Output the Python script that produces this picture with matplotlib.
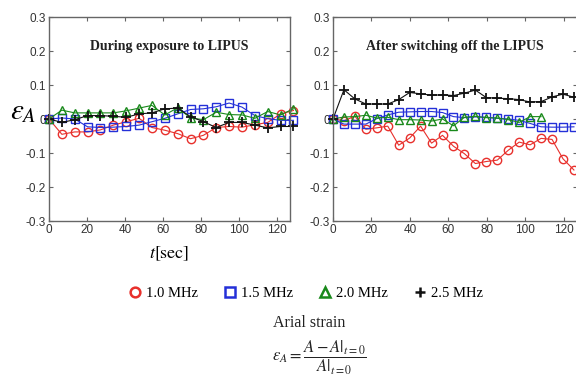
import matplotlib
matplotlib.use('Agg')
import matplotlib.pyplot as plt

plt.rcParams['mathtext.fontset'] = 'stix'

# ---------------- data ----------------
t_during = [0, 6.78, 13.56, 20.34, 27.12, 33.9, 40.68, 47.46, 54.24, 61.02,
            67.8, 74.58, 81.36, 88.14, 94.92, 101.7, 108.48, 115.26, 122.04, 128.82]
during_10 = [0, -0.045, -0.038, -0.038, -0.032, -0.018, -0.008, 0.002, -0.025, -0.033,
             -0.043, -0.058, -0.048, -0.025, -0.022, -0.024, -0.017, -0.010, 0.015, 0.025]
during_15 = [0, 0.003, 0.0, -0.023, -0.025, -0.024, -0.022, -0.018, -0.008, 0.002,
             0.015, 0.028, 0.030, 0.036, 0.047, 0.035, 0.010, 0.001, -0.004, -0.004]
during_20 = [0, 0.026, 0.018, 0.018, 0.018, 0.018, 0.024, 0.032, 0.040, 0.012,
             0.033, 0.003, -0.002, 0.020, 0.013, 0.012, 0.002, 0.022, 0.012, 0.030]
during_25 = [0, -0.010, -0.002, 0.010, 0.010, 0.008, 0.005, 0.015, 0.018, 0.030,
             0.032, 0.007, -0.008, -0.025, -0.010, -0.010, -0.018, -0.026, -0.022, -0.022]

t_after = [0, 5.7, 11.4, 17.1, 22.8, 28.5, 34.2, 39.9, 45.6, 51.3, 57.0, 62.7,
           68.4, 74.1, 79.8, 85.5, 91.2, 96.9, 102.6, 108.3, 114.0, 119.7, 125.4]
after_10 = [0, -0.005, 0.008, -0.030, -0.026, -0.021, -0.077, -0.056, -0.021, -0.071,
            -0.048, -0.080, -0.102, -0.131, -0.125, -0.121, -0.092, -0.068, -0.076,
            -0.057, -0.060, -0.117, -0.150]
after_15 = [0, -0.015, -0.015, -0.015, 0.001, 0.012, 0.020, 0.021, 0.022, 0.022,
            0.019, 0.007, 0.004, 0.006, 0.005, 0.002, 0.0, -0.004, -0.013, -0.023,
            -0.024, -0.024, -0.023]
after_20 = [0, 0.006, 0.007, 0.011, 0.003, 0.005, -0.002, -0.002, -0.003, -0.006,
            0.0, -0.020, 0.005, 0.008, 0.004, 0.003, -0.002, -0.010, 0.007, 0.007]
after_25 = [0, 0.086, 0.059, 0.044, 0.044, 0.044, 0.057, 0.078, 0.074, 0.070,
            0.071, 0.069, 0.076, 0.085, 0.063, 0.061, 0.060, 0.057, 0.050, 0.051,
            0.065, 0.073, 0.064]

labels = ['1.0 MHz', '1.5 MHz', '2.0 MHz', '2.5 MHz']
x_ticks = [0, 20, 40, 60, 80, 100, 120]
y_ticks = [-0.3, -0.2, -0.1, 0, 0.1, 0.2, 0.3]
y_ticklabels = ['-0.3', '-0.2', '-0.1', '0', '0.1', '0.2', '0.3']
titles = ['During exposure to LIPUS', 'After switching off the LIPUS']

# ---------------- styles ----------------
styles = [
    dict(color='#e8302c', marker='o'),
    dict(color='#2430d8', marker='s'),
    dict(color='#19891b', marker='^'),
    dict(color='#111111', marker='+'),
]

fig = plt.figure(figsize=(5.76, 3.83), dpi=100)
axL = fig.add_axes([49/576, 1-221/383, 241/576, 204/383])
axR = fig.add_axes([333/576, 1-221/383, 244/576, 204/383])

spine_col = '#666666'

def draw(ax, series, title):
    for (t, y), st, lab in zip(series, styles, labels):
        ms = 7.5 if st['marker'] == '+' else 6
        mew = 1.3 if st['marker'] == '+' else 1.0
        ax.plot(t, y, color=st['color'], marker=st['marker'], mfc='none',
                mec=st['color'], ms=ms, mew=mew, lw=0.8, clip_on=False,
                label=lab)
    ax.set_xlim(0, 127)
    ax.set_ylim(-0.3, 0.3)
    ax.set_xticks(x_ticks)
    ax.set_xticklabels([str(v) for v in x_ticks])
    ax.set_yticks(y_ticks)
    ax.set_yticklabels(y_ticklabels)
    for s in ax.spines.values():
        s.set_color(spine_col)
        s.set_linewidth(1.0)
    ax.tick_params(direction='in', length=3, width=0.8, color=spine_col,
                   labelsize=8.5, labelcolor='#333333', top=True, right=True, pad=2)
    for lbl in ax.get_xticklabels() + ax.get_yticklabels():
        lbl.set_family('Liberation Sans')
    ax.text(0.5, 0.853, title, transform=ax.transAxes, ha='center', va='center',
            family='Liberation Serif', weight='bold', fontsize=10, color='#222222')

draw(axL, [(t_during, during_10), (t_during, during_15),
           (t_during, during_20), (t_during, during_25)], titles[0])
draw(axR, [(t_after, after_10), (t_after, after_15),
           (t_after[:len(after_20)], after_20), (t_after, after_25)], titles[1])

axL.set_ylabel(r'$\varepsilon_A$', rotation=0, fontsize=21)
axL.yaxis.set_label_coords(-0.105, 0.47)
axL.set_xlabel(r'$t\left[\mathrm{sec}\right]$', fontsize=13, labelpad=6)

handles, labs = axL.get_legend_handles_labels()
leg = fig.legend(handles, labs, loc='center', bbox_to_anchor=(306/576, 1-293/383),
                 ncol=4, frameon=False, handlelength=0.9, handletextpad=0.3,
                 columnspacing=1.75, prop={'family': 'Liberation Serif', 'size': 10.5})
for h in leg.legend_handles:
    h.set_linestyle('none')
    h.set_markersize(7)
    h.set_markeredgewidth(1.8)

fig.text(309/576, 1-323/383, 'Arial strain', ha='center', va='center',
         family='Liberation Serif', fontsize=11.5, color='#222222')
fig.text(319/576, 1-358/383, r'$\varepsilon_A = \dfrac{A - A|_{t=0}}{A|_{t=0}}$',
         ha='center', va='center', fontsize=12, color='#222222')

fig.savefig('out.png', dpi=100)
